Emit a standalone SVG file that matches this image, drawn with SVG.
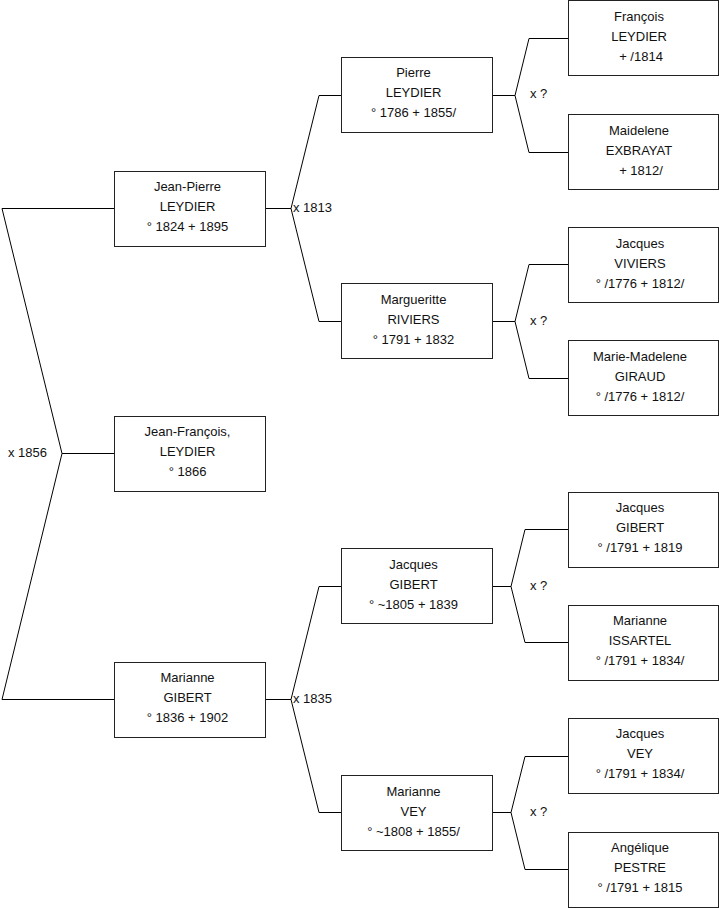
<svg xmlns="http://www.w3.org/2000/svg" width="719" height="908" viewBox="0 0 719 908">
<style>
.box{fill:#fff;stroke:#222;stroke-width:1}
.ln{fill:none;stroke:#000;stroke-width:1}
text{font-family:"Liberation Sans",Arial,sans-serif;font-size:13px;fill:#111}
.n text{text-anchor:middle}
</style>
<rect width="719" height="908" fill="#fff"/>
<g id="connectors">
<path class="ln" d="M114,208.5 H2 L62,453.5 L2,699.5 H114 M62,453.5 H114"/>
<path class="ln" d="M341,95.5 H319 L291,208.5 L319,321.5 H341 M265,208.5 H291"/>
<path class="ln" d="M341,586.5 H319 L291,699.5 L319,812.5 H341 M265,699.5 H291"/>
<path class="ln" d="M568,38.5 H529 L515,95.5 L529,152.5 H568 M492,95.5 H515"/>
<path class="ln" d="M568,264.5 H529 L515,321.5 L529,378.5 H568 M492,321.5 H515"/>
<path class="ln" d="M568,529.5 H525 L511,586.5 L525,642.5 H568 M492,586.5 H511"/>
<path class="ln" d="M568,756.5 H525 L511,812.5 L525,869.5 H568 M492,812.5 H511"/>
<text x="8" y="457">x 1856</text>
<text x="293" y="212">x 1813</text>
<text x="293" y="703">x 1835</text>
<text x="530" y="98">x ?</text>
<text x="530" y="325">x ?</text>
<text x="530" y="590">x ?</text>
<text x="530" y="816">x ?</text>
</g>
<g id="jean-pierre" class="n"><rect class="box" x="114.5" y="171.5" width="151" height="75"/><text x="187.5" y="191">Jean-Pierre</text><text x="187.5" y="211">LEYDIER</text><text x="187.5" y="231">° 1824 + 1895</text></g>
<g id="jean-francois" class="n"><rect class="box" x="114.5" y="416.5" width="151" height="75"/><text x="187.5" y="436">Jean-François,</text><text x="187.5" y="456">LEYDIER</text><text x="187.5" y="476">° 1866</text></g>
<g id="marianne-gibert" class="n"><rect class="box" x="114.5" y="662.5" width="151" height="75"/><text x="187.5" y="682">Marianne</text><text x="187.5" y="702">GIBERT</text><text x="187.5" y="722">° 1836 + 1902</text></g>
<g id="pierre" class="n"><rect class="box" x="341.5" y="57.5" width="151" height="75"/><text x="413.5" y="77">Pierre</text><text x="413.5" y="97">LEYDIER</text><text x="413.5" y="117">° 1786 + 1855/</text></g>
<g id="margueritte" class="n"><rect class="box" x="341.5" y="283.5" width="151" height="75"/><text x="413.5" y="304">Margueritte</text><text x="413.5" y="324">RIVIERS</text><text x="413.5" y="344">° 1791 + 1832</text></g>
<g id="jacques-gibert-1" class="n"><rect class="box" x="341.5" y="548.5" width="151" height="75"/><text x="413.5" y="569">Jacques</text><text x="413.5" y="589">GIBERT</text><text x="413.5" y="609">° ~1805 + 1839</text></g>
<g id="marianne-vey" class="n"><rect class="box" x="341.5" y="775.5" width="151" height="75"/><text x="413.5" y="796">Marianne</text><text x="413.5" y="816">VEY</text><text x="413.5" y="836">° ~1808 + 1855/</text></g>
<g id="francois" class="n"><rect class="box" x="568.5" y="0.5" width="150" height="75"/><text x="639" y="21">François</text><text x="639" y="41">LEYDIER</text><text x="641" y="61">+ /1814</text></g>
<g id="maidelene" class="n"><rect class="box" x="568.5" y="114.5" width="150" height="75"/><text x="639" y="135">Maidelene</text><text x="639" y="155">EXBRAYAT</text><text x="641" y="175">+ 1812/</text></g>
<g id="jacques-viviers" class="n"><rect class="box" x="568.5" y="227.5" width="150" height="75"/><text x="640" y="248">Jacques</text><text x="640" y="268">VIVIERS</text><text x="640" y="288">° /1776 + 1812/</text></g>
<g id="marie-madelene" class="n"><rect class="box" x="568.5" y="340.5" width="150" height="75"/><text x="640" y="361">Marie-Madelene</text><text x="640" y="381">GIRAUD</text><text x="640" y="401">° /1776 + 1812/</text></g>
<g id="jacques-gibert-2" class="n"><rect class="box" x="568.5" y="492.5" width="150" height="75"/><text x="640" y="512">Jacques</text><text x="640" y="532">GIBERT</text><text x="640" y="552">° /1791 + 1819</text></g>
<g id="marianne-issartel" class="n"><rect class="box" x="568.5" y="605.5" width="150" height="75"/><text x="640" y="625">Marianne</text><text x="640" y="645">ISSARTEL</text><text x="640" y="665">° /1791 + 1834/</text></g>
<g id="jacques-vey" class="n"><rect class="box" x="568.5" y="718.5" width="150" height="75"/><text x="640" y="738">Jacques</text><text x="640" y="758">VEY</text><text x="640" y="778">° /1791 + 1834/</text></g>
<g id="angelique" class="n"><rect class="box" x="568.5" y="832.5" width="150" height="75"/><text x="640" y="852">Angélique</text><text x="640" y="872">PESTRE</text><text x="640" y="892">° /1791 + 1815</text></g>
</svg>
